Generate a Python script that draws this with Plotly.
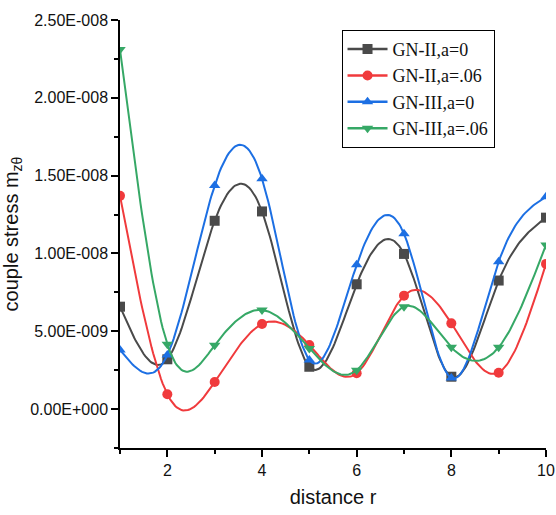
import numpy as np
import plotly.graph_objects as go

# radial distance r
distance = [1, 2, 3, 4, 5, 6, 7, 8, 9, 10]

# couple stress m_zθ for each model
gn2_a0 = [6.58e-9, 3.2e-9, 1.21e-8, 1.27e-8, 2.72e-9, 8.02e-9, 9.97e-9, 2.08e-9, 8.26e-9, 1.23e-8]
gn2_a06 = [1.37e-8, 0.95e-9, 1.74e-9, 5.47e-9, 4.12e-9, 2.3e-9, 7.29e-9, 5.51e-9, 2.34e-9, 9.33e-9]
gn3_a0 = [3.8e-9, 3.47e-9, 1.437e-8, 1.48e-8, 3.15e-9, 9.27e-9, 1.126e-8, 2.0e-9, 9.47e-9, 1.364e-8]
gn3_a06 = [2.31e-8, 4.16e-9, 4.1e-9, 6.37e-9, 3.9e-9, 2.5e-9, 6.58e-9, 3.97e-9, 3.97e-9, 1.055e-8]

y_tickvals = [0, 5e-9, 1e-8, 1.5e-8, 2e-8, 2.5e-8]
y_ticktext = ["0.00E+000", "5.00E-009", "1.00E-008", "1.50E-008", "2.00E-008", "2.50E-008"]
x_tickvals = [2, 4, 6, 8, 10]

series = [
    ("GN-II,a=0", gn2_a0, "#4a4a4a", "square"),
    ("GN-II,a=.06", gn2_a06, "#f03a3c", "circle"),
    ("GN-III,a=0", gn3_a0, "#1c6fe3", "triangle-up"),
    ("GN-III,a=.06", gn3_a06, "#36a866", "triangle-down"),
]


def natural_spline(x, y, per_seg=30):
    """Natural cubic spline connector through the given points."""
    x = np.asarray(x, float)
    y = np.asarray(y, float)
    n = len(x)
    h = np.diff(x)
    A = np.zeros((n, n))
    rhs = np.zeros(n)
    A[0, 0] = A[-1, -1] = 1.0
    for i in range(1, n - 1):
        A[i, i - 1] = h[i - 1]
        A[i, i] = 2 * (h[i - 1] + h[i])
        A[i, i + 1] = h[i]
        rhs[i] = 6 * ((y[i + 1] - y[i]) / h[i] - (y[i] - y[i - 1]) / h[i - 1])
    M = np.linalg.solve(A, rhs)
    xs, ys = [], []
    for i in range(n - 1):
        t = np.linspace(x[i], x[i + 1], per_seg, endpoint=(i == n - 2))
        a = x[i + 1] - t
        b = t - x[i]
        s = (M[i] * a ** 3 + M[i + 1] * b ** 3) / (6 * h[i]) \
            + (y[i] / h[i] - M[i] * h[i] / 6) * a \
            + (y[i + 1] / h[i] - M[i + 1] * h[i] / 6) * b
        xs.extend(t)
        ys.extend(s)
    return xs, ys


fig = go.Figure()
for name, vals, color, symbol in series:
    sx, sy = natural_spline(distance, vals)
    fig.add_trace(go.Scatter(
        x=sx, y=sy, mode="lines", showlegend=False, hoverinfo="skip",
        line=dict(color=color, width=2), legendgroup=name,
    ))
    fig.add_trace(go.Scatter(
        x=distance, y=vals, mode="markers", showlegend=False, legendgroup=name,
        marker=dict(color=color, symbol=symbol, size=10), cliponaxis=True, name=name,
    ))
    # legend entry showing line with marker
    fig.add_trace(go.Scatter(
        x=[None], y=[None], mode="lines+markers", name=name, legendgroup=name,
        line=dict(color=color, width=2.5), marker=dict(color=color, symbol=symbol, size=10),
    ))

axis_font = dict(family="Liberation Sans, Arial, sans-serif", size=16, color="#111")
title_font = dict(family="Liberation Sans, Arial, sans-serif", size=20, color="#111")
fig.update_layout(
    width=556, height=515,
    margin=dict(l=120, r=10, t=20, b=67),
    paper_bgcolor="white", plot_bgcolor="white",
    showlegend=True,
    legend=dict(
        x=0.52, y=0.977, xanchor="left", yanchor="top",
        bordercolor="black", borderwidth=1, bgcolor="white",
        font=dict(family="Liberation Serif, Times New Roman, serif", size=18, color="#111"),
        tracegroupgap=0, itemwidth=40,
    ),
    xaxis=dict(
        range=[1, 10], tickvals=x_tickvals, showgrid=False, zeroline=False,
        showline=True, linecolor="black", linewidth=1.5, automargin=False,
        ticks="outside", ticklen=7, tickcolor="black", tickwidth=1.5,
        minor=dict(ticks="outside", ticklen=4, dtick=1, tick0=1, tickcolor="black"),
        tickfont=axis_font,
        title=dict(text="distance r", font=title_font, standoff=12),
    ),
    yaxis=dict(
        range=[-2.5e-9, 2.5e-8], tickvals=y_tickvals, ticktext=y_ticktext,
        showgrid=False, zeroline=False, automargin=False,
        showline=True, linecolor="black", linewidth=1.5,
        ticks="outside", ticklen=7, tickcolor="black", tickwidth=1.5,
        minor=dict(ticks="outside", ticklen=4, tickvals=[-2.5e-9, 2.5e-9, 7.5e-9, 1.25e-8, 1.75e-8, 2.25e-8], tickcolor="black"),
        tickfont=axis_font,
        title=dict(text="couple stress m<sub>zθ</sub>", font=title_font, standoff=6),
    ),
)

fig.write_html("out.html")
